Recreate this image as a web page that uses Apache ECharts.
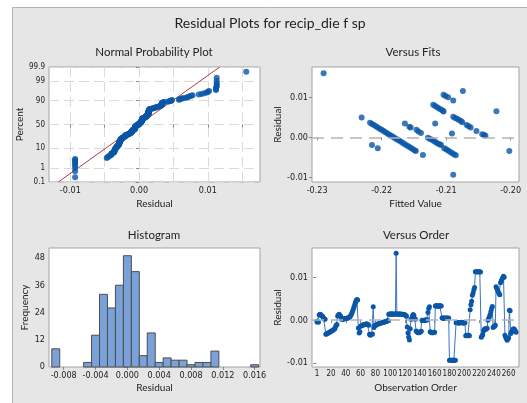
<!DOCTYPE html>
<html>
<head>
<meta charset="UTF-8">
<title>Residual Plots for recip_die f sp</title>
<script src="https://cdn.jsdelivr.net/npm/echarts@6.0.0/dist/echarts.min.js"></script>
<style>
  html, body { margin: 0; padding: 0; background: #fff; }
  #chart { width: 527px; height: 403px; }
</style>
</head>
<body>
<div id="chart"></div>
<script>
const residuals = [
  -0.0004, -0.0002, -0.0005,
  0.0012, 0.0014, 0.0013, 0.0011, 0.0010, 0.0008,
  0.0004, 0.0003, 0.0002,
  -0.0033, -0.0032, -0.0031, -0.0030, -0.0029, -0.0028, -0.0027, -0.0026, -0.0025, -0.0024, -0.0023, -0.0021, -0.0020,
  -0.0016, -0.0012, -0.0010,
  0.0010, 0.0012, 0.0014, 0.0011, 0.0009,
  0.0002, 0.0002, 0.0003, 0.0003, 0.0003, 0.0004, 0.0004, 0.0004, 0.0005, 0.0005, 0.0006, 0.0007, 0.0009,
  0.0012, 0.0016, 0.0020, 0.0025, 0.0030, 0.0036, 0.0042, 0.0046, 0.0048, 0.0047,
  -0.0018, -0.0030, -0.0027,
  -0.0014, -0.0013, -0.0012, -0.0011, -0.0011, -0.0010, -0.0010, -0.0009, -0.0009, -0.0009, -0.0010, -0.0012,
  -0.0033, -0.0035, -0.0034, -0.0033, -0.0032,
  0.0031,
  -0.0017, -0.0013,
  -0.0012, -0.0011, -0.0010, -0.0009, -0.0009, -0.0008, -0.0007, -0.0007, -0.0006, -0.0006, -0.0005, -0.0005, -0.0004, -0.0004, -0.0003, -0.0003, -0.0002, -0.0001,
  0.0014, 0.0014, 0.0015, 0.0014, 0.0014, 0.0015, 0.0014, 0.0014, 0.0014, 0.0015,
  0.0156,
  0.0015, 0.0014, 0.0014, 0.0014, 0.0015, 0.0014, 0.0014, 0.0014, 0.0013, 0.0014,
  0.0013, 0.0012, 0.0011, 0.0009,
  -0.0016, -0.0030, -0.0040, -0.0046,
  -0.0020, 0.0002, 0.0003, 0.0010, 0.0013, 0.0011, 0.0004, 0.0002,
  -0.0025, -0.0027, -0.0028, -0.0029, -0.0029, -0.0028, -0.0027, -0.0026,
  0.0000, -0.0001, 0.0000, -0.0001, 0.0000, 0.0001, 0.0000, 0.0001,
  0.0018, 0.0027, 0.0031,
  -0.0027, -0.0028, -0.0029, -0.0029, -0.0029, -0.0028, -0.0028,
  0.0033, 0.0034, 0.0033, 0.0033, 0.0032, 0.0033, 0.0034, 0.0033, 0.0033,
  0.0005, 0.0005, 0.0004, 0.0005, 0.0005, 0.0004, 0.0005, 0.0005, 0.0004, 0.0005,
  -0.0093, -0.0093, -0.0093, -0.0093, -0.0093, -0.0093, -0.0093, -0.0093, -0.0093,
  -0.0006, -0.0005, -0.0006, -0.0006, -0.0007, -0.0006, -0.0006, -0.0005, -0.0006, -0.0006, -0.0007, -0.0006, -0.0006,
  -0.0036, -0.0035, -0.0036, -0.0036, -0.0035, -0.0036,
  0.0024, 0.0036, 0.0044, 0.0058, 0.0063, 0.0071, 0.0076,
  0.0113, 0.0113, 0.0112, 0.0113, 0.0113, 0.0112, 0.0113, 0.0112,
  -0.0040, -0.0037, -0.0034,
  -0.0025, -0.0022, -0.0020, -0.0022, -0.0020, -0.0019,
  0.0000, 0.0004, 0.0008, 0.0013, 0.0020, 0.0027, 0.0032,
  -0.0017, -0.0015, -0.0014, -0.0012,
  0.0078, 0.0074, 0.0070, 0.0066, 0.0062, 0.0059,
  0.0087, 0.0091, 0.0095, 0.0099, 0.0102, 0.0100,
  -0.0035, -0.0040, -0.0043, -0.0047, -0.0044, -0.0041,
  0.0023, 0.0022,
  -0.0031, -0.0027, -0.0024, -0.0021, -0.0020, -0.0022, -0.0025, -0.0028
];

// versus fits: [fitted value, residual]
const fitsPoints = [
  [-0.2290, 0.0161], [-0.2231, 0.0050], [-0.2215, -0.0019], [-0.2206, -0.0027],
  [-0.2218, 0.0037], [-0.2215, 0.0034], [-0.2212, 0.0031], [-0.2209, 0.0028], [-0.2206, 0.0025],
  [-0.2203, 0.0022], [-0.2200, 0.0019], [-0.2197, 0.0016], [-0.2194, 0.0013], [-0.2191, 0.0010],
  [-0.2188, 0.0007], [-0.2185, 0.0004], [-0.2182, 0.0001], [-0.2179, -0.0002], [-0.2176, -0.0005],
  [-0.2173, -0.0008], [-0.2170, -0.0011], [-0.2167, -0.0014], [-0.2164, -0.0017], [-0.2161, -0.0020],
  [-0.2158, -0.0023], [-0.2155, -0.0026], [-0.2152, -0.0029], [-0.2149, -0.0032], [-0.2147, -0.0034],
  [-0.2164, 0.0035], [-0.2157, 0.0027], [-0.2155, 0.0025], [-0.2146, 0.0019], [-0.2143, 0.0015], [-0.2139, 0.0011],
  [-0.2136, -0.0044],
  [-0.2128, -0.0001], [-0.2125, -0.0004], [-0.2122, -0.0006], [-0.2119, -0.0009], [-0.2116, -0.0012],
  [-0.2113, -0.0015], [-0.2110, -0.0017], [-0.2108, -0.0019],
  [-0.2117, 0.0035],
  [-0.2120, 0.0082], [-0.2117, 0.0079], [-0.2114, 0.0076], [-0.2111, 0.0073], [-0.2108, 0.0070],
  [-0.2105, 0.0067], [-0.2104, 0.0065],
  [-0.2104, 0.0107], [-0.2101, 0.0104], [-0.2097, 0.0101], [-0.2089, 0.0093],
  [-0.2103, -0.0027], [-0.2100, -0.0030], [-0.2097, -0.0033], [-0.2094, -0.0036], [-0.2091, -0.0039],
  [-0.2088, -0.0042], [-0.2085, -0.0045],
  [-0.2091, 0.0010], [-0.2089, -0.0094],
  [-0.2089, 0.0052], [-0.2086, 0.0049], [-0.2083, 0.0047], [-0.2080, 0.0044], [-0.2077, 0.0041], [-0.2075, 0.0038],
  [-0.2074, 0.0117],
  [-0.2068, 0.0031], [-0.2065, 0.0028], [-0.2062, 0.0025],
  [-0.2053, 0.0016],
  [-0.2044, 0.0008], [-0.2041, 0.0006], [-0.2039, 0.0004],
  [-0.2022, 0.0066], [-0.2002, -0.0034]
];

// histogram bins (centre) and frequencies
const histCenters = [-0.009, -0.005, -0.004, -0.003, -0.002, -0.001, 0.000, 0.001, 0.002, 0.003,
  0.004, 0.005, 0.006, 0.007, 0.008, 0.009, 0.010, 0.011, 0.016];
const histCounts = [8, 2, 14, 32, 26, 36, 49, 42, 5, 15, 2, 4, 3, 3, 1, 2, 2, 7, 1];
const binWidth = 0.001;

// fitted normal line for the probability plot
const fitMean = 0;
const fitSd = 0.0038;

// tick labels
const percentTicks = [0.1, 1, 10, 50, 90, 99, 99.9];
const npResidTicks = [-0.01, 0, 0.01];
const npGridX = [-0.01, -0.005, 0, 0.005, 0.01, 0.015];
const fitsTicks = [-0.23, -0.22, -0.21, -0.20];
const residTicks = [-0.01, 0, 0.01];
const histXTicks = [-0.008, -0.004, 0, 0.004, 0.008, 0.012, 0.016];
const histYTicks = [0, 12, 24, 36, 48];
const orderTicks = [1, 20, 40, 60, 80, 100, 120, 140, 160, 180, 200, 220, 240, 260];

// inverse standard normal (Acklam)
function probit(p) {
  const a = [-39.69683028665376, 220.9460984245205, -275.9285104469687, 138.3577518672690, -30.66479806614716, 2.506628277459239];
  const b = [-54.47609879822406, 161.5858368580409, -155.6989798598866, 66.80131188771972, -13.28068155288572];
  const c = [-0.007784894002430293, -0.3223964580411365, -2.400758277161838, -2.549732539343734, 4.374664141464968, 2.938163982698783];
  const d = [0.007784695709041462, 0.3224671290700398, 2.445134137142996, 3.754408661907416];
  const pl = 0.02425;
  let q, r;
  if (p < pl) {
    q = Math.sqrt(-2 * Math.log(p));
    return (((((c[0]*q+c[1])*q+c[2])*q+c[3])*q+c[4])*q+c[5]) / ((((d[0]*q+d[1])*q+d[2])*q+d[3])*q+1);
  }
  if (p > 1 - pl) {
    q = Math.sqrt(-2 * Math.log(1 - p));
    return -(((((c[0]*q+c[1])*q+c[2])*q+c[3])*q+c[4])*q+c[5]) / ((((d[0]*q+d[1])*q+d[2])*q+d[3])*q+1);
  }
  q = p - 0.5; r = q * q;
  return (((((a[0]*r+a[1])*r+a[2])*r+a[3])*r+a[4])*r+a[5])*q / (((((b[0]*r+b[1])*r+b[2])*r+b[3])*r+b[4])*r+1);
}

const n = residuals.length;
const sorted = residuals.slice().sort((a, b) => a - b);
const probData = sorted.map((r, i) => [r, probit((i + 1 - 0.375) / (n + 0.25))]);
const zTicks = percentTicks.map(p => probit(p / 100));
const zMin = zTicks[0];
const zMax = zTicks[zTicks.length - 1];
const lineData = [[fitMean + zMin * fitSd, zMin], [fitMean + zMax * fitSd, zMax]];
const orderData = residuals.map((r, i) => [i + 1, r]);
const histData = histCenters.map((c, i) => [c, histCounts[i]]);

const FONT = 'Lato, "Open Sans", sans-serif';
const TICKFONT = '"Liberation Sans Narrow", "DejaVu Sans Condensed", Lato, sans-serif';
const DOT = '#0a56a8';
const TXT = '#222';

function labelStyle(vals, fmt, margin, size) {
  return { customValues: vals, formatter: fmt, fontSize: size || 9, color: TXT, fontFamily: TICKFONT,
    margin: margin, showMinLabel: true, showMaxLabel: true, hideOverlap: false };
}
function tickStyle(vals) {
  return { show: true, customValues: vals, length: 3, lineStyle: { color: '#8a8a8a' } };
}
function nameStyle() {
  return { fontSize: 10, color: TXT, fontFamily: FONT };
}

const zeroLine = {
  silent: true, symbol: 'none', label: { show: false },
  lineStyle: { color: '#b4b4b4', type: [12, 7], width: 1.5 },
  data: [{ yAxis: 0 }]
};

const gridBase = { show: true, backgroundColor: '#fff', borderColor: '#a3a3a3', borderWidth: 1 };

const option = {
  animation: false,
  backgroundColor: '#fff',
  graphic: [
    { type: 'rect', z: -10, shape: { x: 12.5, y: 7.5, width: 530, height: 410 },
      style: { fill: '#e6e6e6', stroke: '#b3b3b3', lineWidth: 1 } },
    { type: 'text', x: 270, y: 23, style: { text: 'Residual Plots for recip_die f sp', align: 'center', verticalAlign: 'middle', font: '14px ' + FONT, fill: TXT } },
    { type: 'text', x: 154, y: 52, style: { text: 'Normal Probability Plot', align: 'center', verticalAlign: 'middle', font: '11.5px ' + FONT, fill: TXT } },
    { type: 'text', x: 413, y: 52, style: { text: 'Versus Fits', align: 'center', verticalAlign: 'middle', font: '11.5px ' + FONT, fill: TXT } },
    { type: 'text', x: 154, y: 235, style: { text: 'Histogram', align: 'center', verticalAlign: 'middle', font: '11.5px ' + FONT, fill: TXT } },
    { type: 'text', x: 416, y: 235, style: { text: 'Versus Order', align: 'center', verticalAlign: 'middle', font: '11.5px ' + FONT, fill: TXT } }
  ],
  grid: [
    Object.assign({ left: 49, top: 67, width: 211, height: 115 }, gridBase),
    Object.assign({ left: 312, top: 67, width: 207, height: 115 }, gridBase),
    Object.assign({ left: 49, top: 248, width: 211, height: 119 }, gridBase),
    Object.assign({ left: 312, top: 248, width: 207, height: 119 }, gridBase)
  ],
  xAxis: [
    { gridIndex: 0, type: 'value', min: -0.0131, max: 0.0176,
      axisLine: { show: false }, axisTick: tickStyle(npGridX),
      axisLabel: labelStyle(npResidTicks, v => v.toFixed(2), 4),
      splitLine: { show: true, lineStyle: { color: '#dadada', type: [10, 5] } },
      name: 'Residual', nameLocation: 'middle', nameGap: 17, nameTextStyle: nameStyle() },
    { gridIndex: 1, type: 'value', min: -0.2308, max: -0.1987,
      axisLine: { show: false }, axisTick: tickStyle(fitsTicks),
      axisLabel: labelStyle(fitsTicks, v => v.toFixed(2), 4),
      splitLine: { show: false },
      name: 'Fitted Value', nameLocation: 'middle', nameGap: 17, nameTextStyle: nameStyle() },
    { gridIndex: 2, type: 'value', min: -0.00985, max: 0.01667,
      axisLine: { show: false }, axisTick: tickStyle(histXTicks),
      axisLabel: labelStyle(histXTicks, v => v.toFixed(3), 4),
      splitLine: { show: false },
      name: 'Residual', nameLocation: 'middle', nameGap: 16, nameTextStyle: nameStyle() },
    { gridIndex: 3, type: 'value', min: -5.7, max: 274,
      axisLine: { show: false }, axisTick: tickStyle(orderTicks),
      axisLabel: labelStyle(orderTicks, v => String(v), 3, 8),
      splitLine: { show: false },
      name: 'Observation Order', nameLocation: 'middle', nameGap: 16, nameTextStyle: nameStyle() }
  ],
  yAxis: [
    { gridIndex: 0, type: 'value', min: zMin, max: zMax,
      axisLine: { show: false }, axisTick: tickStyle(zTicks),
      axisLabel: labelStyle(zTicks, v => {
        let best = 0;
        zTicks.forEach((z, i) => { if (Math.abs(z - v) < Math.abs(zTicks[best] - v)) best = i; });
        return String(percentTicks[best]);
      }, 4, 8),
      splitLine: { show: true, lineStyle: { color: '#dadada', type: [10, 5] } },
      name: 'Percent', nameLocation: 'middle', nameGap: 21, nameTextStyle: nameStyle() },
    { gridIndex: 1, type: 'value', min: -0.0112, max: 0.0177,
      axisLine: { show: false }, axisTick: tickStyle(residTicks),
      axisLabel: labelStyle(residTicks, v => v.toFixed(2), 4),
      splitLine: { show: false },
      name: 'Residual', nameLocation: 'middle', nameGap: 24, nameTextStyle: nameStyle() },
    { gridIndex: 2, type: 'value', min: 0, max: 52.4,
      axisLine: { show: false }, axisTick: tickStyle(histYTicks),
      axisLabel: labelStyle(histYTicks, v => String(v), 4),
      splitLine: { show: false },
      name: 'Frequency', nameLocation: 'middle', nameGap: 19, nameTextStyle: nameStyle() },
    { gridIndex: 3, type: 'value', min: -0.0109, max: 0.0168,
      axisLine: { show: false }, axisTick: tickStyle(residTicks),
      axisLabel: labelStyle(residTicks, v => v.toFixed(2), 4),
      splitLine: { show: false },
      name: 'Residual', nameLocation: 'middle', nameGap: 24, nameTextStyle: nameStyle() }
  ],
  series: [
    { type: 'line', xAxisIndex: 0, yAxisIndex: 0, data: lineData, symbol: 'none',
      lineStyle: { color: '#b23a3a', width: 1 }, z: 3 },
    { type: 'scatter', xAxisIndex: 0, yAxisIndex: 0, data: probData, symbolSize: 6,
      itemStyle: { color: DOT }, z: 4 },
    { type: 'scatter', xAxisIndex: 1, yAxisIndex: 1, data: fitsPoints, symbolSize: 6,
      itemStyle: { color: DOT }, markLine: zeroLine, z: 4 },
    { type: 'custom', xAxisIndex: 2, yAxisIndex: 2, data: histData, encode: { x: 0, y: 1 },
      renderItem: function (params, api) {
        const c = api.value(0), h = api.value(1);
        const p0 = api.coord([c - binWidth / 2, h]);
        const p1 = api.coord([c + binWidth / 2, 0]);
        return { type: 'rect',
          shape: { x: p0[0], y: p0[1], width: p1[0] - p0[0], height: p1[1] - p0[1] },
          style: { fill: '#7ba2d8', stroke: '#4d4d4d', lineWidth: 1 } };
      } },
    { type: 'line', xAxisIndex: 3, yAxisIndex: 3, data: orderData, symbol: 'circle', symbolSize: 5,
      showAllSymbol: true,
      itemStyle: { color: DOT }, lineStyle: { color: '#3d74c2', width: 1 }, markLine: zeroLine, z: 4 }
  ]
};

const chart = echarts.init(document.getElementById('chart'));
chart.setOption(option);
</script>
</body>
</html>
